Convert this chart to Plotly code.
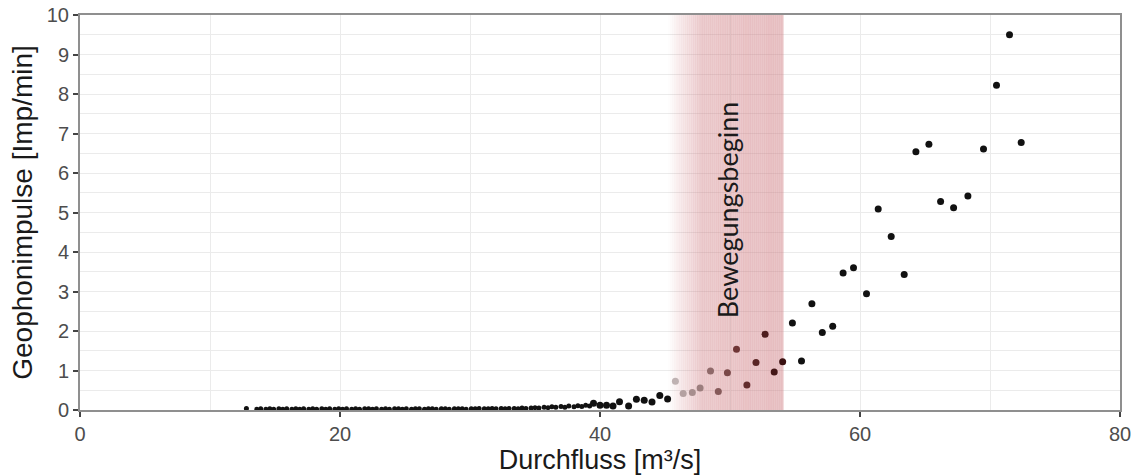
import numpy as np
import plotly.graph_objects as go

# ---------------- data ----------------
# low-flow baseline measurements (Durchfluss, Geophonimpulse)
base_q = [12.8, 13.6, 13.9, 14.3, 14.6, 14.9, 15.3, 15.6, 15.9, 16.3,
          16.6, 16.9, 17.2, 17.6, 17.9, 18.2, 18.6, 18.9, 19.2, 19.6,
          19.9, 20.2, 20.5, 20.9, 21.2, 21.5, 21.9, 22.2, 22.5, 22.8,
          23.2, 23.5, 23.8, 24.2, 24.5, 24.8, 25.1, 25.5, 25.8, 26.1,
          26.5, 26.8, 27.1, 27.4, 27.8, 28.1, 28.4, 28.8, 29.1, 29.4,
          29.7, 30.1, 30.4, 30.7, 31.1, 31.4, 31.7, 32.0, 32.4, 32.7,
          33.0, 33.4, 33.7, 34.0, 34.3, 34.7, 35.0, 35.3, 35.7, 36.0,
          36.3, 36.6, 37.0, 37.3, 37.6, 38.0, 38.3, 38.6, 38.9, 39.2]
base_imp = [0.04, 0.02, 0.03, 0.02, 0.03, 0.02, 0.03, 0.02, 0.03, 0.02,
            0.03, 0.02, 0.03, 0.02, 0.03, 0.02, 0.03, 0.02, 0.03, 0.02,
            0.03, 0.02, 0.03, 0.02, 0.03, 0.02, 0.03, 0.03, 0.02, 0.03,
            0.02, 0.03, 0.02, 0.03, 0.03, 0.02, 0.03, 0.02, 0.03, 0.03,
            0.02, 0.03, 0.03, 0.02, 0.03, 0.03, 0.02, 0.03, 0.03, 0.03,
            0.02, 0.03, 0.03, 0.04, 0.03, 0.03, 0.04, 0.03, 0.04, 0.03,
            0.04, 0.04, 0.03, 0.05, 0.04, 0.05, 0.06, 0.05, 0.07, 0.06,
            0.08, 0.07, 0.09, 0.07, 0.10, 0.08, 0.11, 0.09, 0.12, 0.10]

# higher-flow measurements
main_q = [39.5, 40.0, 40.5, 41.0, 41.5, 42.2, 42.8, 43.4, 44.0, 44.6, 45.2,
          45.8, 46.4, 47.1, 47.7, 48.5, 49.1, 49.8, 50.5, 51.3, 52.0, 52.7, 53.4,
          54.05, 54.8, 55.5, 56.3, 57.1, 57.9, 58.7, 59.5, 60.5, 61.4, 62.4, 63.4,
          64.3, 65.3, 66.2, 67.2, 68.3, 69.5, 70.5, 71.5, 72.4]
main_imp = [0.17, 0.12, 0.12, 0.10, 0.21, 0.10, 0.27, 0.25, 0.20, 0.37, 0.28,
            0.73, 0.42, 0.44, 0.56, 0.99, 0.47, 0.94, 1.54, 0.63, 1.20, 1.92, 0.96,
            1.22, 2.20, 1.24, 2.69, 1.96, 2.12, 3.47, 3.60, 2.94, 5.09, 4.39, 3.43,
            6.54, 6.73, 5.28, 5.12, 5.42, 6.61, 8.22, 9.50, 6.77]

band_start, band_end = 45.25, 54.1          # "Bewegungsbeginn" range [m³/s]
band_label = "Bewegungsbeginn"

x_range = [0, 80]
y_range = [0, 10]
x_title = "Durchfluss [m³/s]"
y_title = "Geophonimpulse [Imp/min]"

# ---------------- figure ----------------
fig = go.Figure()

q = np.array(main_q)
imp = np.array(main_imp)
inside = (q > band_start) & (q < band_end)

fig.add_trace(go.Scatter(x=base_q, y=base_imp, mode="markers",
                         marker=dict(size=5, color="#111111"),
                         showlegend=False))
fig.add_trace(go.Scatter(x=q[~inside], y=imp[~inside], mode="markers",
                         marker=dict(size=7, color="#111111"),
                         showlegend=False))
fig.add_trace(go.Scatter(x=q[inside], y=imp[inside], mode="markers",
                         marker=dict(size=7, color=q[inside],
                                     colorscale=[[0, "#c9c1c1"], [0.25, "#a08484"],
                                                 [0.6, "#6e3434"], [1, "#3a1010"]],
                                     cmin=band_start, cmax=band_end, showscale=False),
                         showlegend=False))

# gradient band (white -> rose)
n = 60
edges = np.linspace(band_start, band_end, n + 1)
shapes = []
for i in range(n):
    t = (i + 0.5) / n
    a = 0.34 * min(1.0, t / 0.3) ** 0.9 + 0.1 * t
    shapes.append(dict(type="rect", xref="x", yref="y",
                       x0=edges[i], x1=edges[i + 1] + 0.02, y0=y_range[0], y1=y_range[1],
                       line=dict(width=0), fillcolor=f"rgba(205,120,126,{a:.3f})",
                       layer="between"))
fig.update_layout(shapes=shapes)

fig.add_annotation(x=(band_start + band_end) / 2 + 0.1, y=5.06, text=band_label,
                   textangle=-90, showarrow=False,
                   font=dict(family="Lato", size=27, color="#1a1a1a"))

axis_common = dict(showline=True, linecolor="#8f8f8f", linewidth=2, mirror=True,
                   ticks="outside", ticklen=5, tickwidth=2, tickcolor="#444444",
                   gridcolor="#ebebeb", gridwidth=1.3, zeroline=False, automargin=False,
                   tickfont=dict(family="Liberation Sans", size=20, color="#4d4d4d"))

fig.update_xaxes(range=x_range, dtick=20, tick0=0,
                 minor=dict(dtick=10, showgrid=True, gridcolor="#ebebeb", gridwidth=1.3),
                 title=dict(text=x_title, standoff=6,
                            font=dict(family="Liberation Sans", size=27, color="#1a1a1a")),
                 **axis_common)
fig.update_yaxes(range=y_range, dtick=1, tick0=0,
                 minor=dict(dtick=0.5, showgrid=True, gridcolor="#ebebeb", gridwidth=1.3),
                 title=dict(text=y_title, standoff=6,
                            font=dict(family="Liberation Sans", size=28, color="#1a1a1a")),
                 **axis_common)

fig.update_layout(width=1138, height=476,
                  margin=dict(l=80, r=18, t=15, b=66),
                  paper_bgcolor="white", plot_bgcolor="white")

fig.write_html("out.html")
